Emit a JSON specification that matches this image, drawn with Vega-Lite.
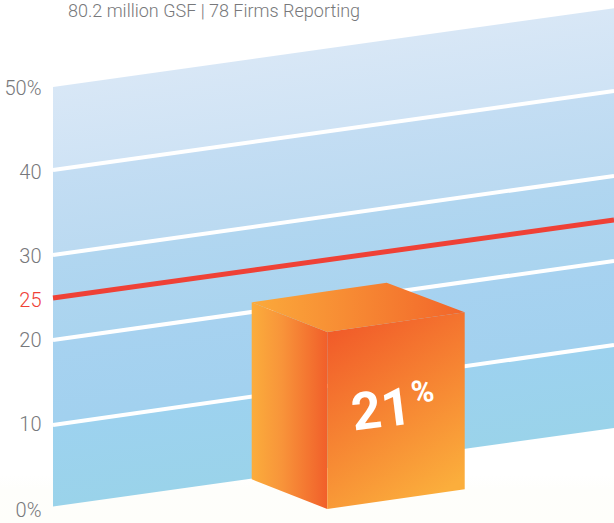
{
"$schema":"https://vega.github.io/schema/vega-lite/v6.json",
"width":614,"height":523,"padding":0,"autosize":{"type":"none"},
"background":"#ffffff",
"view":{"stroke":null},
"title":{"text":"80.2 million GSF | 78 Firms Reporting","anchor":"start","frame":"group","dx":68,"dy":18,"offset":-17,"baseline":"alphabetic","font":"Roboto","fontSize":18,"fontWeight":300,"color":"#77787b"},
"datasets":{
"floor":[{"x":-9.447,"y":3.75,"y2":-1.97},{"x":100,"y":3.75,"y2":-1.97}],
"surface":[{"x":0,"y":50,"y2":0},{"x":100,"y":59.4,"y2":9.36}],
"levels":[
{"level":10,"x":0,"y":9.7},{"level":10,"x":100,"y":19.25},
{"level":20,"x":0,"y":19.85},{"level":20,"x":100,"y":29.26},
{"level":30,"x":0,"y":29.97},{"level":30,"x":100,"y":39.4},
{"level":40,"x":0,"y":40.1},{"level":40,"x":100,"y":49.52}
],
"benchmark":[{"level":25,"x":0,"y":24.85},{"level":25,"x":100,"y":34.15}],
"cubeLeft":[{"x":35.42,"y":24.34,"y2":3.24},{"x":48.89,"y":20.8,"y2":-0.3}],
"cubeFront":[{"x":48.89,"y":20.8,"y2":-0.3},{"x":73.39,"y":23.15,"y2":2.05}],
"cubeTop":[{"x":35.42,"y":24.34,"y2":24.34},{"x":48.89,"y":25.64,"y2":20.8},{"x":59.48,"y":26.67,"y2":21.82},{"x":73.39,"y":23.15,"y2":23.15}],
"value":[{"x":58.56,"y":11.38,"label":"21"}],
"unit":[{"x":65.9,"y":13.5,"label":"%"}]
},
"encoding":{
"x":{"field":"x","type":"quantitative","scale":{"domain":[-9.447,100],"nice":false,"zero":false},"axis":null},
"y":{"field":"y","type":"quantitative","scale":{"domain":[-1.97,60.37],"nice":false,"zero":false},
"axis":{"title":null,"values":[0,10,20,25,30,40,50],"offset":-53,"grid":false,"domain":false,"ticks":false,"labelPadding":12,"labelFont":"Roboto","labelFontSize":20,"labelFontWeight":300,"labelBound":false,"labelFlush":false,"zindex":1,
"labelExpr":"datum.value===0||datum.value===50?datum.value+'%':datum.value+''",
"labelColor":{"condition":{"test":"datum.value===25","value":"#ef4136"},"value":"#77787b"},
"labelOffset":{"condition":{"test":"datum.value===25||datum.value===0","value":4},"value":2}}}
},
"layer":[
{"data":{"name":"floor"},"mark":{"type":"area","orient":"vertical","color":{"gradient":"linear","x1":0,"y1":0,"x2":0,"y2":1,"stops":[{"offset":0,"color":"#ffffff"},{"offset":0.3,"color":"#fefefb"},{"offset":1,"color":"#fefefa"}]}},"encoding":{"y2":{"field":"y2"}}},
{"data":{"name":"surface"},"mark":{"type":"area","orient":"vertical","color":{"gradient":"linear","x1":0,"y1":0.158,"x2":0.13,"y2":0.98,"stops":[
{"offset":0,"color":"#d8e7f6"},{"offset":0.195,"color":"#cfe3f5"},{"offset":0.205,"color":"#c3ddf3"},{"offset":0.395,"color":"#bbdaf1"},{"offset":0.405,"color":"#b1d6f0"},{"offset":0.595,"color":"#aad4ef"},{"offset":0.605,"color":"#a7d2f0"},{"offset":0.795,"color":"#a2d1ef"},{"offset":0.805,"color":"#9dd2ef"},{"offset":1,"color":"#9ad3ea"}]}},"encoding":{"y2":{"field":"y2"}}},
{"data":{"name":"levels"},"mark":{"type":"line","color":"#ffffff","strokeWidth":4},"encoding":{"detail":{"field":"level"}}},
{"data":{"name":"benchmark"},"mark":{"type":"line","color":"#ef4136","strokeWidth":5}},
{"data":{"name":"cubeLeft"},"mark":{"type":"area","orient":"vertical","color":{"gradient":"linear","x1":0,"y1":0,"x2":1,"y2":0,"stops":[{"offset":0,"color":"#fbad3c"},{"offset":0.4,"color":"#f8943a"},{"offset":1,"color":"#f15f2a"}]}},"encoding":{"y2":{"field":"y2"}}},
{"data":{"name":"cubeFront"},"mark":{"type":"area","orient":"vertical","color":{"gradient":"linear","x1":0.2,"y1":0,"x2":0.65,"y2":1,"stops":[{"offset":0,"color":"#f15a29"},{"offset":1,"color":"#fbae3c"}]}},"encoding":{"y2":{"field":"y2"}}},
{"data":{"name":"cubeTop"},"mark":{"type":"area","orient":"vertical","color":{"gradient":"linear","x1":0,"y1":0,"x2":1,"y2":0,"stops":[{"offset":0,"color":"#fbaa3b"},{"offset":1,"color":"#f2652a"}]}},"encoding":{"y2":{"field":"y2"}}},
{"data":{"name":"value"},"mark":{"type":"text","font":"Roboto","fontWeight":"bold","fontSize":52,"color":"#ffffff","angle":353,"align":"center","baseline":"middle"},"encoding":{"text":{"field":"label"}}},
{"data":{"name":"unit"},"mark":{"type":"text","font":"Roboto","fontWeight":"bold","fontSize":31,"color":"#ffffff","angle":353,"align":"center","baseline":"middle"},"encoding":{"text":{"field":"label"}}}
]
}
